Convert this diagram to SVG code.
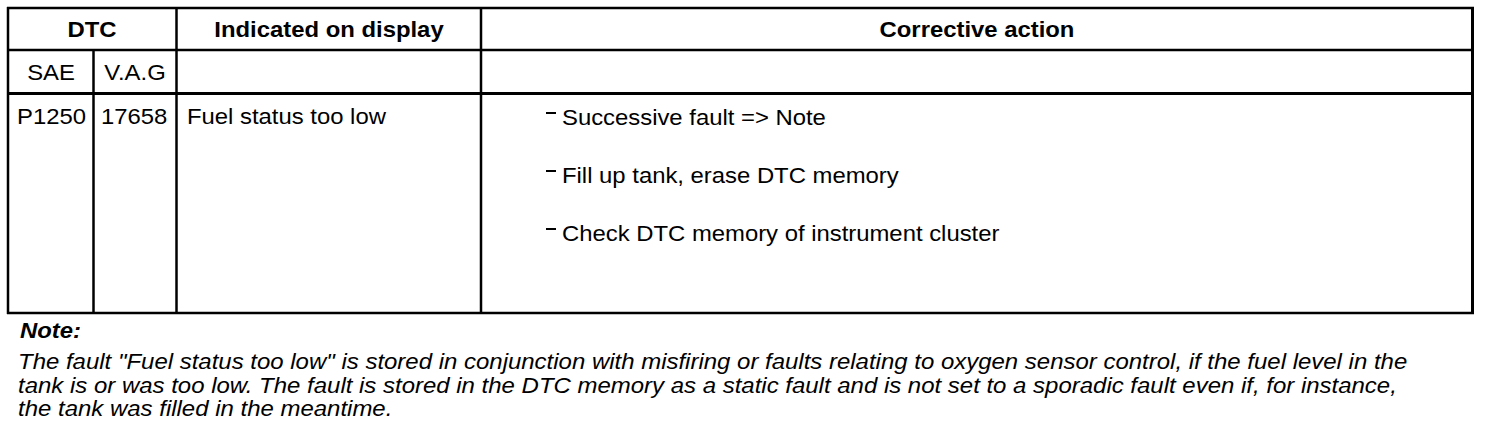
<svg xmlns="http://www.w3.org/2000/svg" width="1504" height="430" viewBox="0 0 1504 430">
<style>
  text { font-family: "Liberation Sans", Arial, sans-serif; font-size: 22px; fill: #000; }
  .b { font-weight: bold; }
  .c { text-anchor: middle; }
  .i { font-style: italic; }
  .ln { stroke: #000; stroke-width: 2.5; fill: none; }
  .lt { stroke: #000; stroke-width: 3; fill: none; }
  .dash { stroke: #000; stroke-width: 2; }
</style>
<rect width="1504" height="430" fill="#fff"/>
<g id="table-grid">
  <line class="ln" x1="7" y1="8" x2="1474" y2="8"/>
  <line class="ln" x1="8" y1="7" x2="8" y2="314"/>
  <line class="lt" x1="1472.5" y1="7" x2="1472.5" y2="314"/>
  <line class="ln" x1="7" y1="50" x2="1474" y2="50"/>
  <line class="lt" x1="7" y1="93.5" x2="1474" y2="93.5"/>
  <line class="ln" x1="7" y1="313" x2="1474" y2="313"/>
  <line class="ln" x1="93.5" y1="50" x2="93.5" y2="314"/>
  <line class="ln" x1="176.5" y1="7" x2="176.5" y2="314"/>
  <line class="ln" x1="481" y1="7" x2="481" y2="314"/>
</g>
<g id="header">
  <text class="b c" transform="translate(92,37) scale(1.085,1)">DTC</text>
  <text class="b c" transform="translate(329,37) scale(1.085,1)">Indicated on display</text>
  <text class="b c" transform="translate(977,37) scale(1.085,1)">Corrective action</text>
  <text class="c" transform="translate(51,80) scale(1.085,1)">SAE</text>
  <text class="c" transform="translate(135,80) scale(1.085,1)">V.A.G</text>
</g>
<g id="row-p1250">
  <text transform="translate(17,124) scale(1.085,1)">P1250</text>
  <text transform="translate(101,124) scale(1.085,1)">17658</text>
  <text transform="translate(187,124) scale(1.085,1)">Fuel status too low</text>
</g>
<g id="corrective-actions">
  <line class="dash" x1="546" y1="113" x2="556" y2="113"/>
  <text transform="translate(562,125) scale(1.085,1)">Successive fault =&gt; Note</text>
  <line class="dash" x1="546" y1="171" x2="556" y2="171"/>
  <text transform="translate(562,183) scale(1.085,1)">Fill up tank, erase DTC memory</text>
  <line class="dash" x1="546" y1="229" x2="556" y2="229"/>
  <text transform="translate(562,241) scale(1.085,1)">Check DTC memory of instrument cluster</text>
</g>
<g id="note">
  <text class="b i" transform="translate(20,338) scale(1.085,1)">Note:</text>
  <text class="i" transform="translate(18,369) scale(1.09,1)">The fault "Fuel status too low" is stored in conjunction with misfiring or faults relating to oxygen sensor control, if the fuel level in the</text>
  <text class="i" transform="translate(18,393) scale(1.09,1)">tank is or was too low. The fault is stored in the DTC memory as a static fault and is not set to a sporadic fault even if, for instance,</text>
  <text class="i" transform="translate(18,416) scale(1.09,1)">the tank was filled in the meantime.</text>
</g>
</svg>
